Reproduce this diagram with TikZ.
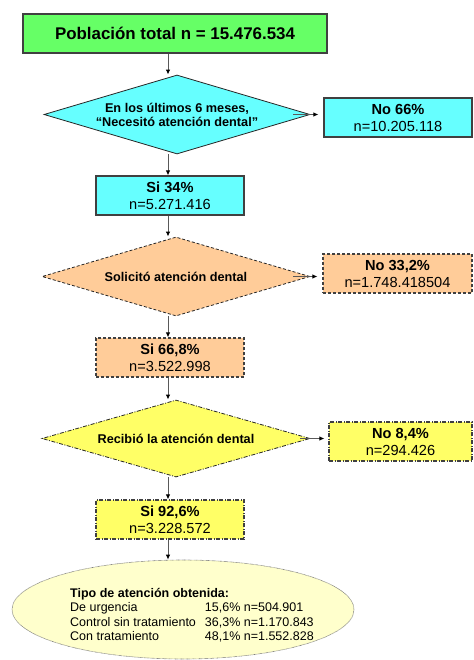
\documentclass[tikz,border=0pt]{standalone}
\usepackage{fontspec}
\setmainfont{Liberation Sans}
\usepackage{tikz}
\usetikzlibrary{shapes.geometric,arrows.meta}
\definecolor{verde}{HTML}{66FF66}
\definecolor{celeste}{HTML}{66FFFF}
\definecolor{salmon}{HTML}{FFCC99}
\definecolor{amarillo}{HTML}{FFFF66}
\definecolor{crema}{HTML}{FFFFCC}

\begin{document}
\begin{tikzpicture}[x=1pt,y=-1pt]
      %styles for boxes, diamonds and arrows
      \tikzset{
      caja/.style={rectangle, draw=black!75, line width=1.1pt, minimum width=148pt,
        minimum height=39pt, inner sep=0pt, align=center,
        font=\fontsize{14.6}{17}\selectfont},
      rombo/.style={diamond, draw=black!85, line width=0.8pt, inner sep=0pt,
        shape aspect=3.4, align=center, font=\bfseries\fontsize{12.7}{14}\selectfont},
      guion/.style={dash pattern=on 3pt off 2pt},
      guionpunto/.style={dash pattern=on 4pt off 1.5pt on 1pt off 1.5pt},
      flecha/.style={draw=black!65, line width=1pt, -{Latex[length=5pt,width=4.5pt,color=black]}},
      }
      \useasboundingbox (0,0) rectangle (473,660);
      \coordinate (eje) at (168,0);

      %Stage 1 - total
      \node[caja, fill=verde, minimum width=304pt,
        font=\bfseries\fontsize{16.9}{20}\selectfont] (pob) at (175,33.5) {Población total n = 15.476.534};

      %Stage 2 - need
      \node[rombo, fill=celeste, minimum width=266pt, minimum height=79pt] (nec) at (177,114.5)
        {En los últimos 6 meses,\\“Necesitó atención dental”};
      \node[caja, fill=celeste] (nec no) at (398,117.5) {\textbf{No 66\%}\\n=10.205.118};
      \node[caja, fill=celeste] (nec si) at (170,195.5) {\textbf{Si 34\%}\\n=5.271.416};

      %Stage 3 - asked
      \node[rombo, guion, fill=salmon, minimum width=268pt, minimum height=79pt] (sol) at (176,276.5)
        {Solicitó atención dental};
      \node[caja, guion, fill=salmon, minimum width=149pt] (sol no) at (397.5,273.5) {\textbf{No 33,2\%}\\n=1.748.418504};
      \node[caja, guion, fill=salmon] (sol si) at (170,357.5) {\textbf{Si 66,8\%}\\n=3.522.998};

      %Stage 4 - received
      \node[rombo, guionpunto, fill=amarillo, minimum width=268pt, minimum height=77pt] (rec) at (176,438.5)
        {Recibió la atención dental};
      \node[caja, guionpunto, fill=amarillo, minimum width=143pt] (rec no) at (400.5,441.5) {\textbf{No 8,4\%}\\n=294.426};
      \node[caja, guionpunto, fill=amarillo] (rec si) at (170,519.5) {\textbf{Si 92,6\%}\\n=3.228.572};

      %type of care
      \node[ellipse, draw=black!55, line width=0.6pt, dash pattern=on 0.6pt off 0.6pt, fill=crema,
        minimum width=342pt, minimum height=99pt, inner sep=0pt] (tipos) at (183,609.5) {};
      \node[anchor=north west, inner sep=0pt, font=\fontsize{12.5}{14.5}\selectfont] (lista) at (70,586.8)
        {\begin{tabular}{@{}l@{\hspace{9pt}}l@{}}
        \multicolumn{2}{@{}l}{\textbf{Tipo de atención obtenida:}}\\
        De urgencia & 15,6\% n=504.901\\
        Control sin tratamiento & 36,3\% n=1.170.843\\
        Con tratamiento & 48,1\% n=1.552.828
        \end{tabular}};

      %arrows down
      \draw[flecha] (pob.south -| eje) -- (nec.north -| eje);
      \draw[flecha] (nec.south -| eje) -- (nec si.north -| eje);
      \draw[flecha] (nec si.south -| eje) -- (sol.north -| eje);
      \draw[flecha] (sol.south -| eje) -- (sol si.north -| eje);
      \draw[flecha] (sol si.south -| eje) -- (rec.north -| eje);
      \draw[flecha] (rec.south -| eje) -- (rec si.north -| eje);
      \draw[flecha] (rec si.south -| eje) -- (tipos.north -| eje);
      %arrows to the right
      \draw[flecha, shorten >=5pt] ([xshift=-17pt]nec.east) -- (nec no.west |- nec.east);
      \draw[flecha, shorten >=5pt] ([xshift=-17pt]sol.east) -- (sol no.west |- sol.east);
      \draw[flecha, shorten >=4pt] ([xshift=-10pt]rec.east) -- (rec no.west |- rec.east);
\end{tikzpicture}
\end{document}
